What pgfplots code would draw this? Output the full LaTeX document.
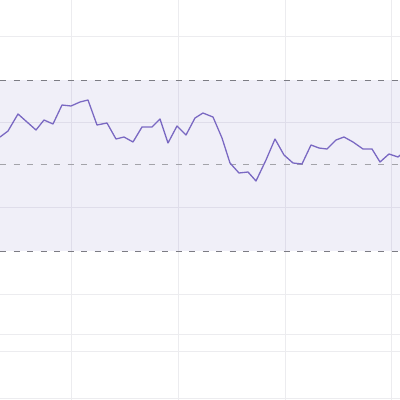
\documentclass[border=0pt]{standalone}
\usepackage{pgfplots}
\pgfplotsset{compat=1.18}
\definecolor{linepurple}{HTML}{7A69C2}
\definecolor{gridgray}{HTML}{ECECEF}
\definecolor{dashgray}{HTML}{7C7C84}
\begin{document}
\begin{tikzpicture}
\begin{axis}[
  width=400bp, height=400bp,
  scale only axis,
  xmin=0, xmax=400, ymin=0, ymax=400,
  y dir=reverse,
  axis line style={draw=none},
  tick style={draw=none},
  xtick={71,178,285,391},
  ytick={36,122,207,294,334,351,398},
  xticklabels={}, yticklabels={},
  grid=major,
  grid style={gridgray, line width=0.9bp},
  clip=true,
]
% shaded band
\addplot[draw=none, fill=linepurple, fill opacity=0.11] coordinates {
  (0,80) (400,80) (400,251) (0,251)
} --cycle;
% band limits and centre line
\addplot[dashgray, line width=1bp, dash pattern=on 6bp off 7.5bp] coordinates {(0,80) (400,80)};
\addplot[dashgray, line width=1bp, dash pattern=on 6bp off 7.5bp] coordinates {(0,251) (400,251)};
\addplot[dashgray!70, line width=0.9bp, dash pattern=on 6bp off 7.5bp] coordinates {(0,164.5) (400,164.5)};
% series
\addplot[linepurple, line width=1.3bp, line join=round] coordinates {
  (0,137) (8,131) (18,114) (27,122) (36,130) (44,120) (53,124) (62,105)
  (71,106) (80,102) (88,100) (97,125) (107,123) (116,139) (124,137)
  (133,142) (142,127) (152,127) (160,119) (168,143) (177,126) (186,135)
  (195,118) (203,113) (213,117) (222,138) (230,163) (239,173) (248,172)
  (256,181) (266,160) (275,139) (284,155) (293,163) (302,164) (311,145)
  (319,148) (327,149) (336,140) (344,137) (353,142) (363,149) (372,149)
  (380,162) (389,154) (398,157) (406,150)
};
\end{axis}
\pgfresetboundingbox
\path (current axis.south west) rectangle (current axis.north east);
\end{tikzpicture}
\end{document}
